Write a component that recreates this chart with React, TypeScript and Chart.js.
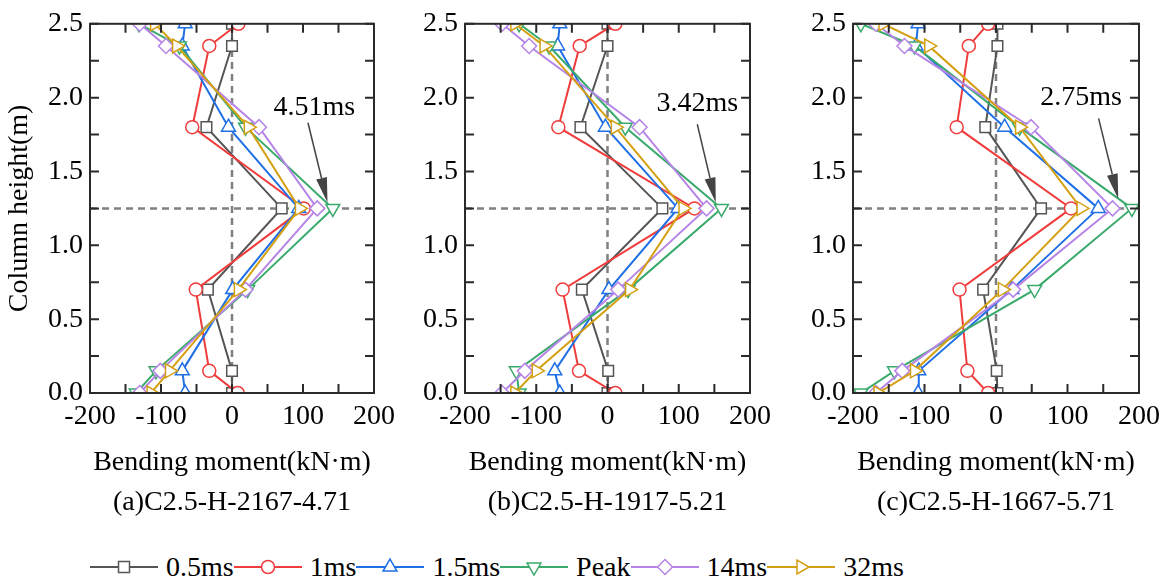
import React, { useEffect, useRef } from "react";
import { Chart, registerables } from "chart.js";

Chart.register(...registerables);

// ---------- data ----------
const heights = [0, 0.15, 0.7, 1.25, 1.8, 2.35, 2.5];
const seriesNames = ["0.5ms", "1ms", "1.5ms", "Peak", "14ms", "32ms"];
const seriesColors = ["#555555", "#F03C3C", "#1F6FE6", "#3AAA6C", "#B684E6", "#D4A012"];
const pointStyles = ["rect", "circle", "triangle", "triangle", "rectRot", "triangle"];
const pointRotations = [0, 0, 0, 180, 0, 90];
const pointRadii = [7.5, 6.5, 8, 8, 7.5, 8];

// Panel (a) bending moments (kN·m), listed bottom -> top
const a_05 = [0, 0, -34, 70, -36, 0, 0];
const a_1 = [8, -32, -51, 101, -56, -32, 9];
const a_15 = [-66, -70, 1, 94, -5, -70, -66];
const a_peak = [-135, -107, 22, 142, 19, -74, -131];
const a_14 = [-130, -101, 19, 120, 38, -93, -130];
const a_32 = [-114, -88, 9, 95, 23, -78, -109];

// Panel (b)
const b_05 = [0, 1, -36, 77, -38, 0, 0];
const b_1 = [11, -40, -63, 122, -69, -39, 11];
const b_15 = [-67, -74, 2, 99, -3, -70, -67];
const b_peak = [-124, -128, 29, 160, 25, -82, -124];
const b_14 = [-148, -116, 15, 139, 45, -110, -148];
const b_32 = [-130, -100, 31, 106, 11, -89, -130];

// Panel (c)
const c_05 = [2, 1, -18, 63, -15, 2, 2];
const c_1 = [-11, -40, -51, 105, -55, -38, -11];
const c_15 = [-109, -108, 22, 143, 12, -112, -109];
const c_peak = [-189, -142, 54, 190, 33, -114, -189];
const c_14 = [-168, -131, 24, 163, 49, -128, -168];
const c_32 = [-165, -114, 9, 119, 33, -94, -158];

const panelSeries = [
  [a_05, a_1, a_15, a_peak, a_14, a_32],
  [b_05, b_1, b_15, b_peak, b_14, b_32],
  [c_05, c_1, c_15, c_peak, c_14, c_32],
];
const panelTitles = ["(a)C2.5-H-2167-4.71", "(b)C2.5-H-1917-5.21", "(c)C2.5-H-1667-5.71"];

// annotations (data coordinates)
const annotationLabels = ["4.51ms", "3.42ms", "2.75ms"];
const annotationTextX = [116, 126, 119];
const annotationTextY = [1.93, 1.96, 2.0];
const arrowStartX = [107, 126, 143.5];
const arrowStartY = [1.83, 1.82, 1.86];
const arrowTipX = [134.5, 152, 171];
const arrowTipY = [1.29, 1.29, 1.315];

// reference lines
const refX = 0;
const refY = 1.25;

// axes
const xMin = -200, xMax = 200, xStep = 100;
const yMin = 0, yMax = 2.5, yStep = 0.5;
const xTickMarks = [-200, -150, -100, -50, 0, 50, 100, 150, 200];
const yTickMarks = [0, 0.25, 0.5, 0.75, 1, 1.25, 1.5, 1.75, 2, 2.25, 2.5];

const xTitle = "Bending moment(kN·m)";
const yTitle = "Column height(m)";

// ---------- layout ----------
const FONT = "'Liberation Serif', 'Times New Roman', serif";
const plotLefts = [90, 465, 853];
const plotRights = [377, 753, 1142];
const PLOT_TOP = 23;
const PLOT_BOTTOM = 393;
const CANVAS_H = 530;
const Y_AXIS_W = 90;
const RIGHT_PAD = 25;

const marksPlugin = {
  id: "marks",
  beforeDatasetsDraw(chart: any) {
    const { ctx, chartArea: ca, scales } = chart;
    const x0 = scales.x.getPixelForValue(refX);
    const y0 = scales.y.getPixelForValue(refY);
    ctx.save();
    ctx.strokeStyle = "#808080";
    ctx.lineWidth = 2.5;
    ctx.setLineDash([7, 5]);
    ctx.beginPath();
    ctx.moveTo(x0, ca.bottom);
    ctx.lineTo(x0, ca.top);
    ctx.moveTo(ca.left, y0);
    ctx.lineTo(ca.right, y0);
    ctx.stroke();
    ctx.restore();
  },
  afterDatasetsDraw(chart: any) {
    const { ctx, chartArea: ca, scales } = chart;
    const idx = chart.options.plugins.marks.panel;
    const xs = scales.x, ys = scales.y;
    ctx.save();
    // frame
    ctx.strokeStyle = "#2a2a2a";
    ctx.lineWidth = 2;
    ctx.strokeRect(ca.left, ca.top, ca.right - ca.left, ca.bottom - ca.top);
    // inward ticks
    const tl = 9;
    ctx.beginPath();
    for (const v of xTickMarks) {
      const px = xs.getPixelForValue(v);
      ctx.moveTo(px, ca.bottom);
      ctx.lineTo(px, ca.bottom - tl);
      ctx.moveTo(px, ca.top);
      ctx.lineTo(px, ca.top + tl);
    }
    for (const v of yTickMarks) {
      const py = ys.getPixelForValue(v);
      ctx.moveTo(ca.left, py);
      ctx.lineTo(ca.left + tl, py);
      ctx.moveTo(ca.right, py);
      ctx.lineTo(ca.right - tl, py);
    }
    ctx.stroke();
    // annotation
    const tx = xs.getPixelForValue(annotationTextX[idx]);
    const ty = ys.getPixelForValue(annotationTextY[idx]);
    ctx.fillStyle = "#000";
    ctx.font = `28px ${FONT}`;
    ctx.textAlign = "center";
    ctx.textBaseline = "middle";
    ctx.fillText(annotationLabels[idx], tx, ty);
    const sx = xs.getPixelForValue(arrowStartX[idx]);
    const sy = ys.getPixelForValue(arrowStartY[idx]);
    const ex = xs.getPixelForValue(arrowTipX[idx]);
    const ey = ys.getPixelForValue(arrowTipY[idx]);
    const dx = ex - sx, dy = ey - sy;
    const len = Math.hypot(dx, dy);
    const ux = dx / len, uy = dy / len;
    const headL = 25, headW = 5.5;
    const bx = ex - ux * headL, by = ey - uy * headL;
    ctx.strokeStyle = "#444";
    ctx.fillStyle = "#444";
    ctx.lineWidth = 1.5;
    ctx.beginPath();
    ctx.moveTo(sx, sy);
    ctx.lineTo(bx, by);
    ctx.stroke();
    ctx.beginPath();
    ctx.moveTo(ex, ey);
    ctx.lineTo(bx - uy * headW, by + ux * headW);
    ctx.lineTo(bx + uy * headW, by - ux * headW);
    ctx.closePath();
    ctx.fill();
    ctx.restore();
  },
};

function Panel({ idx }: { idx: number }) {
  const ref = useRef<HTMLCanvasElement>(null);
  const plotW = plotRights[idx] - plotLefts[idx];
  const width = Y_AXIS_W + plotW + RIGHT_PAD;
  const left = plotLefts[idx] - Y_AXIS_W;

  useEffect(() => {
    const series = panelSeries[idx];
    const datasets = series.map((vals, i) => ({
      label: seriesNames[i],
      data: heights.map((h, k) => ({ x: vals[k], y: h })),
      showLine: true,
      borderColor: seriesColors[i],
      backgroundColor: "#ffffff",
      borderWidth: 2,
      pointStyle: pointStyles[i],
      rotation: pointRotations[i],
      pointRadius: pointRadii[i],
      pointBorderWidth: 1.5,
      pointBorderColor: seriesColors[i],
      pointBackgroundColor: "#ffffff",
      tension: 0,
      order: series.length - 1 - i,
    }));
    const tickFont = { family: FONT, size: 28 };
    const chart = new Chart(ref.current as HTMLCanvasElement, {
      type: "scatter",
      data: { datasets },
      plugins: [marksPlugin],
      options: {
        animation: false,
        responsive: false,
        devicePixelRatio: 1,
        events: [],
        layout: { padding: { left: 0, right: RIGHT_PAD, top: PLOT_TOP, bottom: 0 } },
        plugins: {
          legend: { display: false },
          tooltip: { enabled: false },
          title: { display: false },
          marks: { panel: idx },
        } as any,
        scales: {
          x: {
            type: "linear",
            min: xMin,
            max: xMax,
            grid: { display: false, drawTicks: false },
            border: { display: false },
            ticks: {
              stepSize: xStep,
              padding: 7,
              color: "#000",
              font: tickFont,
              maxRotation: 0,
              callback: (v: any) => String(v),
            },
            title: {
              display: true,
              text: [xTitle, panelTitles[idx]],
              color: "#000",
              font: { family: FONT, size: 28, lineHeight: 40 / 28 },
              padding: { top: 0, bottom: 7 },
            },
            afterFit: (s: any) => {
              s.height = CANVAS_H - PLOT_BOTTOM;
            },
          },
          y: {
            type: "linear",
            min: yMin,
            max: yMax,
            grid: { display: false, drawTicks: false },
            border: { display: false },
            ticks: {
              stepSize: yStep,
              padding: 7,
              color: "#000",
              font: tickFont,
              callback: (v: any) => Number(v).toFixed(1),
            },
            title: {
              display: idx === 0,
              text: yTitle,
              color: "#000",
              font: { family: FONT, size: 28 },
              padding: { top: 3, bottom: 0 },
            },
            afterFit: (s: any) => {
              s.width = Y_AXIS_W;
            },
          },
        },
      } as any,
    });
    return () => chart.destroy();
  }, [idx]);

  return (
    <canvas
      ref={ref}
      width={width}
      height={CANVAS_H}
      style={{ position: "absolute", left, top: 0, width, height: CANVAS_H }}
    />
  );
}

function LegendIcon({ i }: { i: number }) {
  const c = seriesColors[i];
  const cx = 34, cy = 12;
  let marker: any = null;
  const common = { fill: "#fff", stroke: c, strokeWidth: 1.5 };
  if (pointStyles[i] === "rect") {
    marker = <rect x={cx - 5.5} y={cy - 5.5} width={11} height={11} {...common} />;
  } else if (pointStyles[i] === "circle") {
    marker = <circle cx={cx} cy={cy} r={6.5} {...common} />;
  } else if (pointStyles[i] === "rectRot") {
    marker = <polygon points={`${cx},${cy - 7.5} ${cx + 7.5},${cy} ${cx},${cy + 7.5} ${cx - 7.5},${cy}`} {...common} />;
  } else {
    const r = 8;
    const pts = [0, 120, 240]
      .map((a) => {
        const ang = ((a + pointRotations[i]) * Math.PI) / 180;
        return `${cx + r * Math.sin(ang)},${cy - r * Math.cos(ang)}`;
      })
      .join(" ");
    marker = <polygon points={pts} {...common} />;
  }
  return (
    <svg width={68} height={24} style={{ display: "block" }}>
      <line x1={0} y1={cy} x2={68} y2={cy} stroke={c} strokeWidth={2} />
      {marker}
    </svg>
  );
}

export default function App() {
  return (
    <div
      style={{
        position: "absolute",
        left: 0,
        top: 0,
        width: 1170,
        height: 579,
        background: "#fff",
        overflow: "hidden",
      }}
    >
      {[0, 1, 2].map((i) => (
        <Panel key={i} idx={i} />
      ))}
      <div
        style={{
          position: "absolute",
          left: 90,
          top: 550,
          height: 34,
          display: "flex",
          alignItems: "center",
          fontFamily: FONT,
          fontSize: 28,
          color: "#000",
          whiteSpace: "nowrap",
        }}
      >
        {seriesNames.map((n, i) => (
          <div key={n} style={{ display: "flex", alignItems: "center" }}>
            <LegendIcon i={i} />
            <span style={{ marginLeft: 8, lineHeight: "34px" }}>{n}</span>
          </div>
        ))}
      </div>
    </div>
  );
}
